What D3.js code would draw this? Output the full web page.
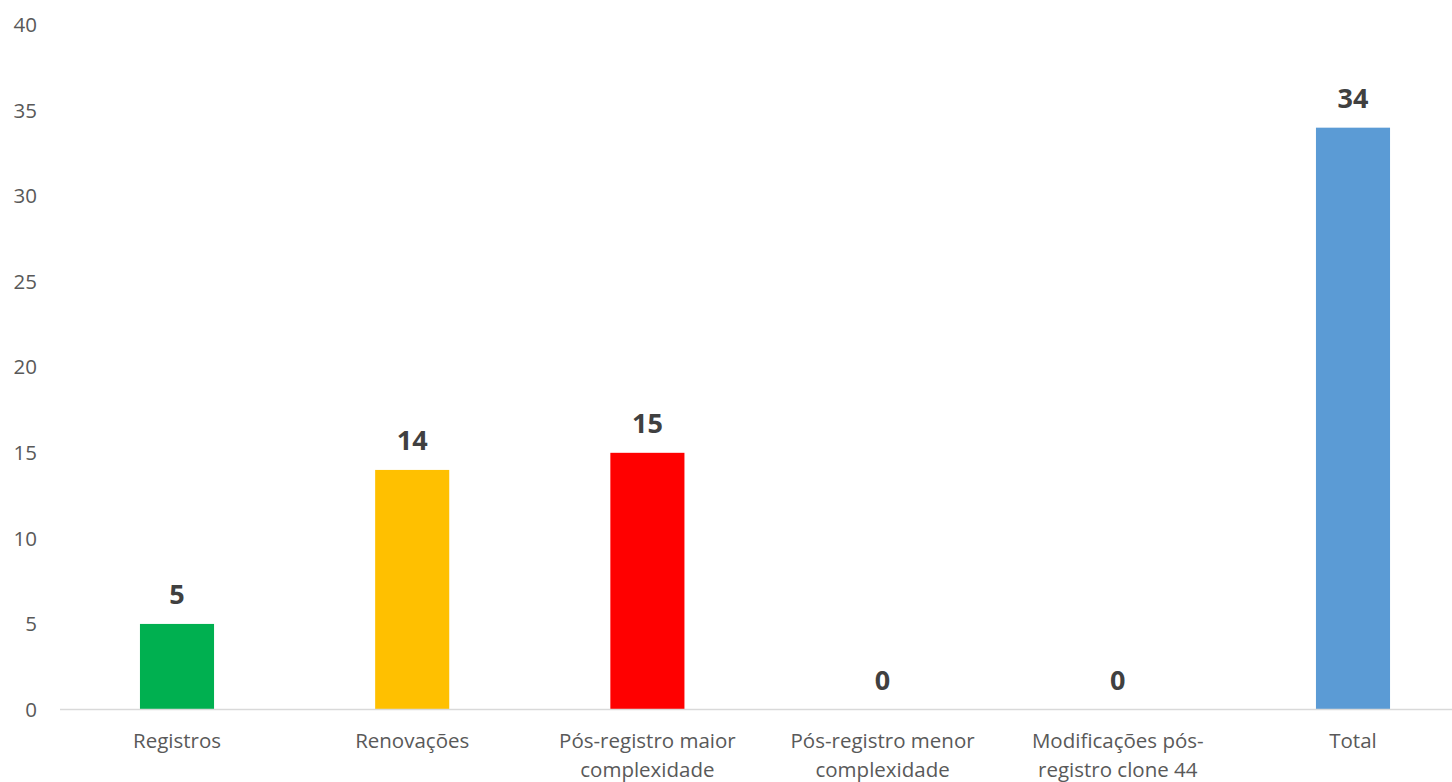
<!DOCTYPE html>
<html><head><meta charset="utf-8">
<script src="https://cdn.jsdelivr.net/npm/d3@7"></script>
<style>html,body{margin:0;padding:0;background:#fff;}svg{display:block;}</style>
</head><body>
<script>
const categories = [["Registros"],["Renovações"],["Pós-registro maior","complexidade"],["Pós-registro menor","complexidade"],["Modificações pós-","registro clone 44"],["Total"]];
const values = [5,14,15,0,0,34];
const colors = ["#00B050","#FFC000","#FF0000","#5B9BD5","#5B9BD5","#5B9BD5"];
const yTicks = [0,5,10,15,20,25,30,35,40];

const W=1452,H=782;
const svg=d3.select("body").append("svg").attr("width",W).attr("height",H);
const x=d3.scaleBand().domain(d3.range(categories.length)).range([59.4,1470.6]).paddingInner(0.685).paddingOuter(0.3425);
const y=d3.scaleLinear().domain([0,40]).range([709.5,25]);
const font="'Open Sans', 'Noto Sans', sans-serif";

// y labels
svg.append("g").selectAll("text").data(yTicks).join("text")
  .attr("x",37).attr("y",d=>y(d)).attr("dy","0.35em").attr("text-anchor","end")
  .attr("font-family",font).attr("font-size",20.5).attr("fill","#595959").text(d=>d);

// bars
svg.append("g").selectAll("rect").data(values).join("rect")
  .attr("x",(d,i)=>x(i)).attr("width",x.bandwidth())
  .attr("y",d=>y(d)).attr("height",d=>y(0)-y(d)).attr("fill",(d,i)=>colors[i]);

// axis line
svg.append("line").attr("x1",60).attr("x2",1452).attr("y1",y(0)).attr("y2",y(0))
  .attr("stroke","#d9d9d9").attr("stroke-width",1.5);

// data labels
svg.append("g").selectAll("text").data(values).join("text")
  .attr("x",(d,i)=>x(i)+x.bandwidth()/2).attr("y",d=>y(d)-20)
  .attr("text-anchor","middle").attr("font-family",font).attr("font-weight","bold")
  .attr("font-size",27).attr("fill","#404040").text(d=>d);

// category labels
const cg=svg.append("g").selectAll("text").data(categories).join("text")
  .attr("text-anchor","middle").attr("font-family",font).attr("font-size",20.5).attr("fill","#595959");
cg.each(function(lines,i){
  d3.select(this).selectAll("tspan").data(lines).join("tspan")
    .attr("x",x(i)+x.bandwidth()/2).attr("y",(l,j)=>748+j*29).text(l=>l);
});
</script>
</body></html>
